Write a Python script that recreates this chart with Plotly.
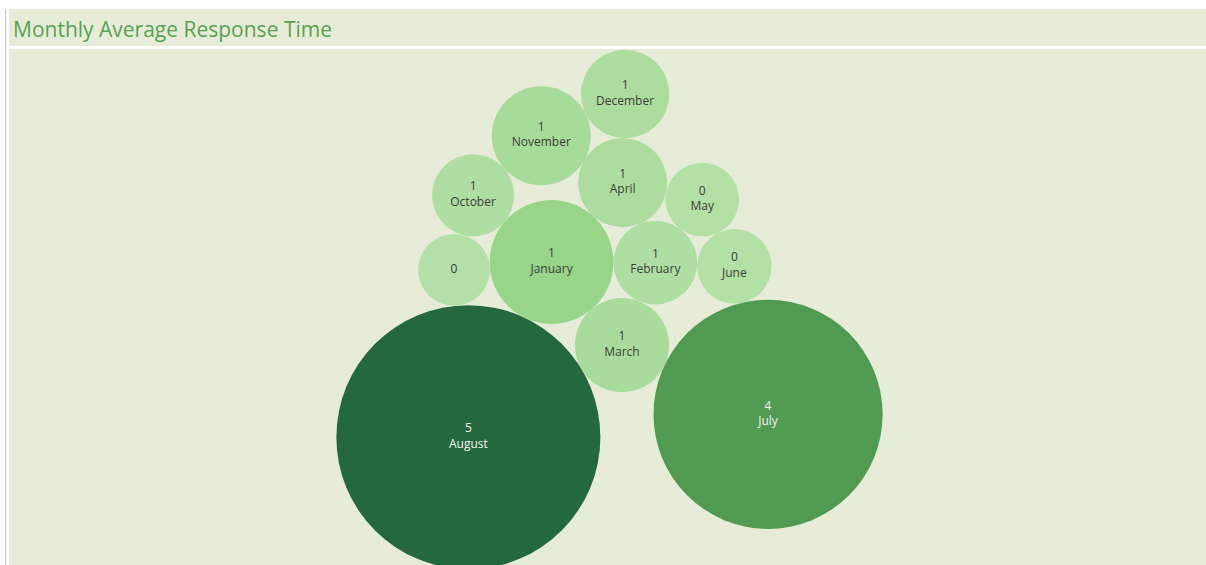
import math
import plotly.graph_objects as go

# Average response time per month (the last bucket has no month recorded)
months = ["January", "February", "March", "April", "May", "June",
          "July", "August", "October", "November", "December", None]
avg_response = [1.16, 0.53, 0.67, 0.60, 0.41, 0.42,
                3.97, 5.27, 0.51, 0.74, 0.59, 0.39]

# Bubble size scale: area proportional to value, largest bubble radius in px
R_MAX = 132.0
v_max = max(avg_response)
radius = {i: R_MAX * math.sqrt(v / v_max) for i, v in enumerate(avg_response)}

idx = {m: i for i, m in enumerate(months)}

# Packing order: each bubble is set tangent to two bubbles already placed
# (side +1 = left of the a->b direction, -1 = right)
START_ANGLE = math.radians(64.6)
pack_steps = [
    ("March", "August", "January", -1),
    (None, "August", "January", +1),
    ("February", "January", "March", +1),
    ("October", "January", None, -1),
    ("April", "January", "February", +1),
    ("May", "April", "February", +1),
    ("June", "February", "May", -1),
    ("July", "March", "June", -1),
    ("November", "October", "April", +1),
    ("December", "November", "April", +1),
]


def tangent_to_two(a, b, ra, rb, rc, side):
    dx, dy = b[0] - a[0], b[1] - a[1]
    d = math.hypot(dx, dy)
    da, db = ra + rc, rb + rc
    along = (da * da - db * db + d * d) / (2 * d)
    h = math.sqrt(max(da * da - along * along, 0.0))
    ux, uy = dx / d, dy / d
    return (a[0] + along * ux - side * h * uy,
            a[1] + along * uy + side * h * ux)


pos = {}
pos[idx["August"]] = (0.0, 0.0)
d0 = radius[idx["August"]] + radius[idx["January"]]
pos[idx["January"]] = (d0 * math.cos(START_ANGLE), d0 * math.sin(START_ANGLE))
for name, a, b, side in pack_steps:
    ia, ib, ic = idx[a], idx[b], idx[name]
    pos[ic] = tangent_to_two(pos[ia], pos[ib], radius[ia], radius[ib],
                             radius[ic], side)

order = list(range(len(months)))
xs = [pos[i][0] for i in order]
ys = [pos[i][1] for i in order]
sizes = [2 * radius[i] for i in order]
labels = [f"{avg_response[i]:.0f}" + (f"<br>{months[i]}" if months[i] else "")
          for i in order]
text_colors = ["#f2f2f2" if avg_response[i] > 3 else "#3c3c3c" for i in order]

# Centre the pack in the view (1 axis unit = 1 pixel)
W, H = 1206, 565
ML, MT = 9, 49
plot_w, plot_h = W - ML, H - MT
left = min(x - radius[i] for i, x in zip(order, xs))
right = max(x + radius[i] for i, x in zip(order, xs))
bottom = min(y - radius[i] for i, y in zip(order, ys))
top = max(y + radius[i] for i, y in zip(order, ys))
cx, cy = (left + right) / 2 - 2, (bottom + top) / 2 + 2.5

green_scale = [[0.0, "#b3e0a6"], [0.16, "#98d589"],
               [0.73, "#529b51"], [1.0, "#24693d"]]

fig = go.Figure(go.Scatter(
    x=xs, y=ys, mode="markers+text",
    text=labels, textposition="middle center",
    textfont=dict(family="Open Sans", size=12, color=text_colors),
    marker=dict(size=sizes, sizemode="diameter", color=avg_response,
                colorscale=green_scale, cmin=min(avg_response), cmax=v_max,
                line=dict(width=0), opacity=1),
    hoverinfo="skip", showlegend=False,
))

fig.update_xaxes(range=[cx - plot_w / 2, cx + plot_w / 2], visible=False,
                 fixedrange=True)
fig.update_yaxes(range=[cy - plot_h / 2, cy + plot_h / 2], visible=False,
                 fixedrange=True)

bg = "#e7ecd9"
fy = lambda px: 1 + (MT - px) / plot_h
fx = lambda px: (px - ML) / plot_w
fig.update_layout(
    width=W, height=H,
    margin=dict(l=ML, r=0, t=MT, b=0, pad=0),
    paper_bgcolor="white", plot_bgcolor=bg,
    shapes=[
        dict(type="rect", xref="paper", yref="paper", layer="below",
             x0=0, x1=1, y0=fy(46), y1=fy(9), fillcolor=bg, line_width=0),
        dict(type="line", xref="paper", yref="paper",
             x0=fx(5.5), x1=fx(5.5), y0=0, y1=fy(9),
             line=dict(color="#c8c8c8", width=1)),
    ],
    annotations=[
        dict(text="Monthly Average Response Time", xref="paper", yref="paper",
             x=fx(11), y=fy(29), xanchor="left", yanchor="middle",
             showarrow=False,
             font=dict(family="Open Sans", size=21, color="#59a14f")),
    ],
)

fig.write_html("out.html")
